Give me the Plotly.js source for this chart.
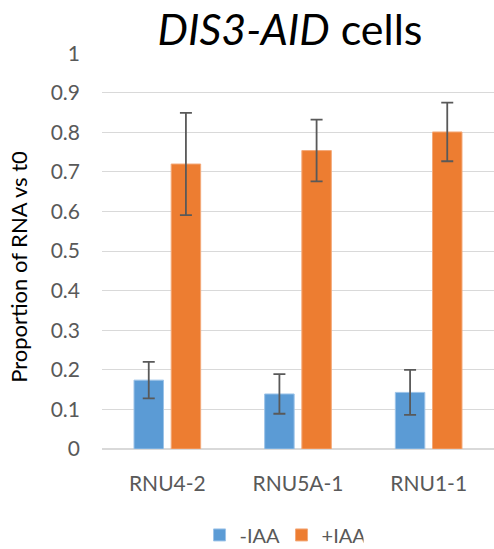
<!DOCTYPE html>
<html>
<head>
<meta charset="utf-8">
<script src="https://cdn.plot.ly/plotly-3.0.1.min.js"></script>
<style>html,body{margin:0;padding:0;background:#fff}#chart{width:494px;height:549px}</style>
</head>
<body>
<div id="chart"></div>
<script>
var categories = ["RNU4-2", "RNU5A-1", "RNU1-1"];
var minusIAA = [0.174, 0.139, 0.143];
var minusIAAErr = [0.046, 0.050, 0.057];
var plusIAA = [0.720, 0.754, 0.801];
var plusIAAErr = [0.129, 0.078, 0.074];
var seriesNames = ["-IAA", "+IAA"];
var yTicks = [0, 0.1, 0.2, 0.3, 0.4, 0.5, 0.6, 0.7, 0.8, 0.9, 1];
var yTickLabels = ["0", "0.1", "0.2", "0.3", "0.4", "0.5", "0.6", "0.7", "0.8", "0.9", "1"];

var FONT = "Lato, 'Open Sans', sans-serif";
var errStyle = {type: "data", visible: true, color: "#595959", thickness: 1.8, width: 6};

var traces = [
  {type: "bar", name: seriesNames[0], x: categories, y: minusIAA,
   marker: {color: "#5B9BD5", line: {color: "#9cc3e8", width: 1}},
   error_y: Object.assign({array: minusIAAErr}, errStyle)},
  {type: "bar", name: seriesNames[1], x: categories, y: plusIAA,
   marker: {color: "#ED7D31", line: {color: "#f4a979", width: 1}},
   error_y: Object.assign({array: plusIAAErr}, errStyle)}
];

var layout = {
  width: 494, height: 549,
  margin: {l: 102, r: 0, t: 53, b: 100, pad: 0, autoexpand: false},
  paper_bgcolor: "#fff", plot_bgcolor: "#fff",
  font: {family: FONT, color: "#595959", size: 20},
  title: {text: "<i>DIS3-AID</i> cells", font: {family: FONT, size: 43, color: "#000"},
          x: 290/494, xref: "container", xanchor: "center",
          y: 1 - 30/549, yref: "container", yanchor: "middle"},
  barmode: "group", bargap: 0.431, bargroupgap: 0.207,
  showlegend: true,
  legend: {orientation: "h", x: 0.458, xanchor: "center", y: -0.217, yanchor: "middle",
           entrywidth: 37, entrywidthmode: "pixels",
           font: {family: FONT, size: 20, color: "#595959"}, traceorder: "normal"},
  xaxis: {type: "category", showgrid: false, showline: false, ticks: "", automargin: false,
          tickfont: {family: FONT, size: 21, color: "#595959"}, ticklabelstandoff: 20},
  yaxis: {range: [0, 1.0005], tickvals: yTicks, ticktext: yTickLabels, automargin: false,
          showgrid: true, gridcolor: "#d9d9d9", gridwidth: 1,
          zeroline: true, zerolinecolor: "#d9d9d9", zerolinewidth: 1.3,
          showline: false, ticks: "", ticklabelstandoff: 21,
          tickfont: {family: FONT, size: 21, color: "#595959"}},
  annotations: [{text: "Proportion of RNA vs t0", textangle: -90, showarrow: false,
                 xref: "paper", yref: "paper", x: (19-102)/392, y: 0.46,
                 xanchor: "center", yanchor: "middle",
                 font: {family: FONT, size: 22, color: "#000"}}]
};

Plotly.newPlot("chart", traces, layout, {displayModeBar: false, staticPlot: true});
</script>
</body>
</html>
